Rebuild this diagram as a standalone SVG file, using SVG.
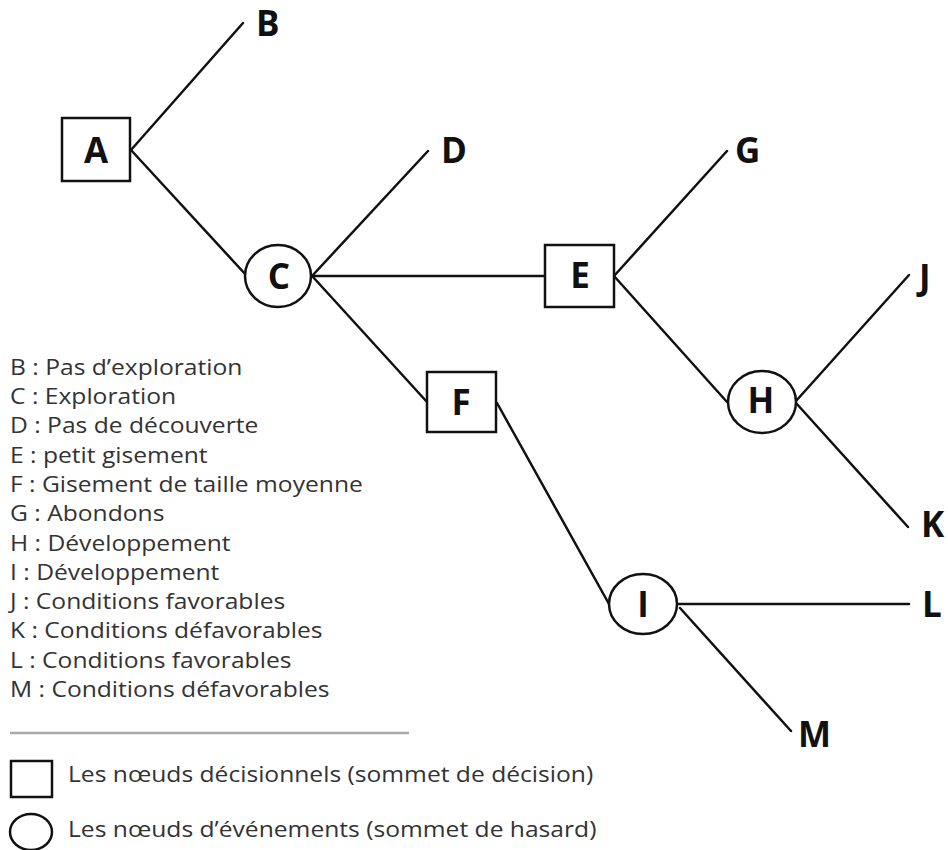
<svg xmlns="http://www.w3.org/2000/svg" width="948" height="850" viewBox="0 0 948 850">
  <style>
    .box { fill: #fff; stroke: #111; stroke-width: 2.5; }
    .node-label { font-family: "Open Sans", "Noto Sans", sans-serif; font-weight: bold; font-size: 35px; fill: #111; text-anchor: middle; }
    .leaf-label { font-family: "Open Sans", "Noto Sans", sans-serif; font-weight: bold; font-size: 35px; fill: #111; }
    .edge { stroke: #111; stroke-width: 2.5; fill: none; stroke-linecap: round; }
    .legend { font-family: "Open Sans", "Noto Sans", sans-serif; font-size: 21.5px; fill: #333; }
  </style>
  <rect width="948" height="850" fill="#fff"/>

  <!-- branches -->
  <g id="connectors">
    <line class="edge" x1="131" y1="150" x2="243" y2="23"/>
    <line class="edge" x1="131" y1="150" x2="246" y2="275"/>
    <line class="edge" x1="312" y1="276" x2="428" y2="151"/>
    <line class="edge" x1="312" y1="276" x2="545" y2="276"/>
    <line class="edge" x1="313" y1="277" x2="427" y2="402"/>
    <line class="edge" x1="614" y1="276" x2="727" y2="151"/>
    <line class="edge" x1="614" y1="276" x2="727" y2="402"/>
    <line class="edge" x1="796" y1="401" x2="909" y2="275"/>
    <line class="edge" x1="796" y1="403" x2="908" y2="527"/>
    <line class="edge" x1="497" y1="403" x2="609" y2="604"/>
    <line class="edge" x1="678" y1="604" x2="909" y2="604"/>
    <line class="edge" x1="680" y1="608" x2="791" y2="731"/>
  </g>

  <!-- decision nodes (squares) and chance nodes (circles) -->
  <g id="node-A"><rect class="box" x="62" y="118" width="68" height="63"/><text class="node-label" x="96" y="163">A</text></g>
  <g id="node-C"><ellipse class="box" cx="278" cy="276" rx="33" ry="31"/><text class="node-label" x="279" y="289">C</text></g>
  <g id="node-E"><rect class="box" x="545" y="245" width="69" height="62"/><text class="node-label" x="580" y="288">E</text></g>
  <g id="node-F"><rect class="box" x="427" y="372" width="69" height="60"/><text class="node-label" x="461" y="415">F</text></g>
  <g id="node-H"><ellipse class="box" cx="762" cy="402" rx="34" ry="31"/><text class="node-label" x="761" y="413">H</text></g>
  <g id="node-I"><ellipse class="box" cx="643" cy="604" rx="34" ry="30"/><text class="node-label" x="643" y="617">I</text></g>

  <!-- outcomes -->
  <g id="node-B"><text class="leaf-label" x="256" y="36">B</text></g>
  <g id="node-D"><text class="leaf-label" x="441" y="163">D</text></g>
  <g id="node-G"><text class="leaf-label" x="735" y="163">G</text></g>
  <g id="node-J"><text class="leaf-label" x="919" y="290">J</text></g>
  <g id="node-K"><text class="leaf-label" x="921" y="537">K</text></g>
  <g id="node-L"><text class="leaf-label" x="922" y="617">L</text></g>
  <g id="node-M"><text class="leaf-label" x="798" y="747">M</text></g>

  <!-- key: the lettering is set slightly wide -->
  <g id="key">
    <g transform="translate(10,0) scale(1.145,1)">
      <text class="legend" x="0" y="375">B : Pas d’exploration</text>
      <text class="legend" x="0" y="404.3">C : Exploration</text>
      <text class="legend" x="0" y="433.5">D : Pas de découverte</text>
      <text class="legend" x="0" y="462.8">E : petit gisement</text>
      <text class="legend" x="0" y="492.1">F : Gisement de taille moyenne</text>
      <text class="legend" x="0" y="521.4">G : Abondons</text>
      <text class="legend" x="0" y="550.6">H : Développement</text>
      <text class="legend" x="0" y="579.9">I : Développement</text>
      <text class="legend" x="0" y="609.2">J : Conditions favorables</text>
      <text class="legend" x="0" y="638.5">K : Conditions défavorables</text>
      <text class="legend" x="0" y="667.7">L : Conditions favorables</text>
      <text class="legend" x="0" y="697">M : Conditions défavorables</text>
    </g>
    <line x1="10" y1="733" x2="409" y2="733" stroke="#aaa" stroke-width="2.5"/>
    <rect class="box" x="11" y="761" width="41" height="36"/>
    <ellipse class="box" cx="31" cy="832" rx="21" ry="18"/>
    <g transform="translate(68,0) scale(1.145,1)">
      <text class="legend" x="0" y="782">Les nœuds décisionnels (sommet de décision)</text>
      <text class="legend" x="0" y="837">Les nœuds d’événements (sommet de hasard)</text>
    </g>
  </g>
</svg>
